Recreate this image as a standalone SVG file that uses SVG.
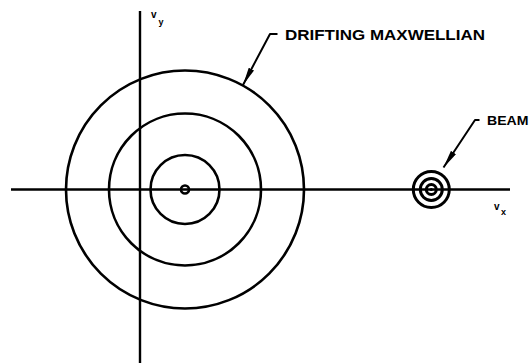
<svg xmlns="http://www.w3.org/2000/svg" width="531" height="363" viewBox="0 0 531 363">
<style>
.ax{stroke:#000;stroke-width:2.4;fill:none}
.c{stroke:#000;stroke-width:2.6;fill:none}
.b{stroke:#000;stroke-width:3;fill:none}
.ld{stroke:#000;stroke-width:2;fill:none;stroke-linejoin:round}
.t{font-family:"Liberation Sans",Arial,sans-serif;font-weight:bold;fill:#000}
</style>
<defs>
<marker id="ah" viewBox="0 0 18 6" refX="18" refY="3" markerWidth="18" markerHeight="6" markerUnits="userSpaceOnUse" orient="auto">
<path d="M0,0 L18,3 L0,6 Z" fill="#000"/>
</marker>
</defs>
<rect width="531" height="363" fill="#fff"/>
<g id="axes">
<line class="ax" x1="140" y1="11" x2="140" y2="363"/>
<line class="ax" x1="11" y1="189.5" x2="510" y2="189.5"/>
<text class="t" x="151" y="18" font-size="10">v</text>
<text class="t" x="158.5" y="25" font-size="9">y</text>
<text class="t" x="494" y="210" font-size="10">v</text>
<text class="t" x="501" y="215" font-size="9">x</text>
</g>
<g id="maxwellian">
<circle class="c" cx="185" cy="189.5" r="119"/>
<circle class="c" cx="185" cy="189.5" r="76"/>
<circle class="c" cx="185" cy="189.5" r="34.5"/>
<circle class="c" cx="185" cy="189.5" r="4" stroke-width="1.8"/>
</g>
<g id="beam">
<circle class="b" cx="431.3" cy="189.5" r="18"/>
<circle class="b" cx="431.3" cy="189.5" r="11"/>
<circle class="b" cx="431.3" cy="189.5" r="5"/>
<circle cx="431.3" cy="189.5" r="1.5" fill="#000"/>
</g>
<g id="labels">
<path class="ld" d="M277.5,34 L270,34 L243,85" marker-end="url(#ah)"/>
<text class="t" x="285" y="39.5" font-size="15" textLength="200" lengthAdjust="spacingAndGlyphs">DRIFTING MAXWELLIAN</text>
<path class="ld" d="M479.5,120 L475,120 L443.5,167.5" marker-end="url(#ah)"/>
<text class="t" x="487" y="125" font-size="12" textLength="41.5" lengthAdjust="spacingAndGlyphs">BEAM</text>
</g>
</svg>
